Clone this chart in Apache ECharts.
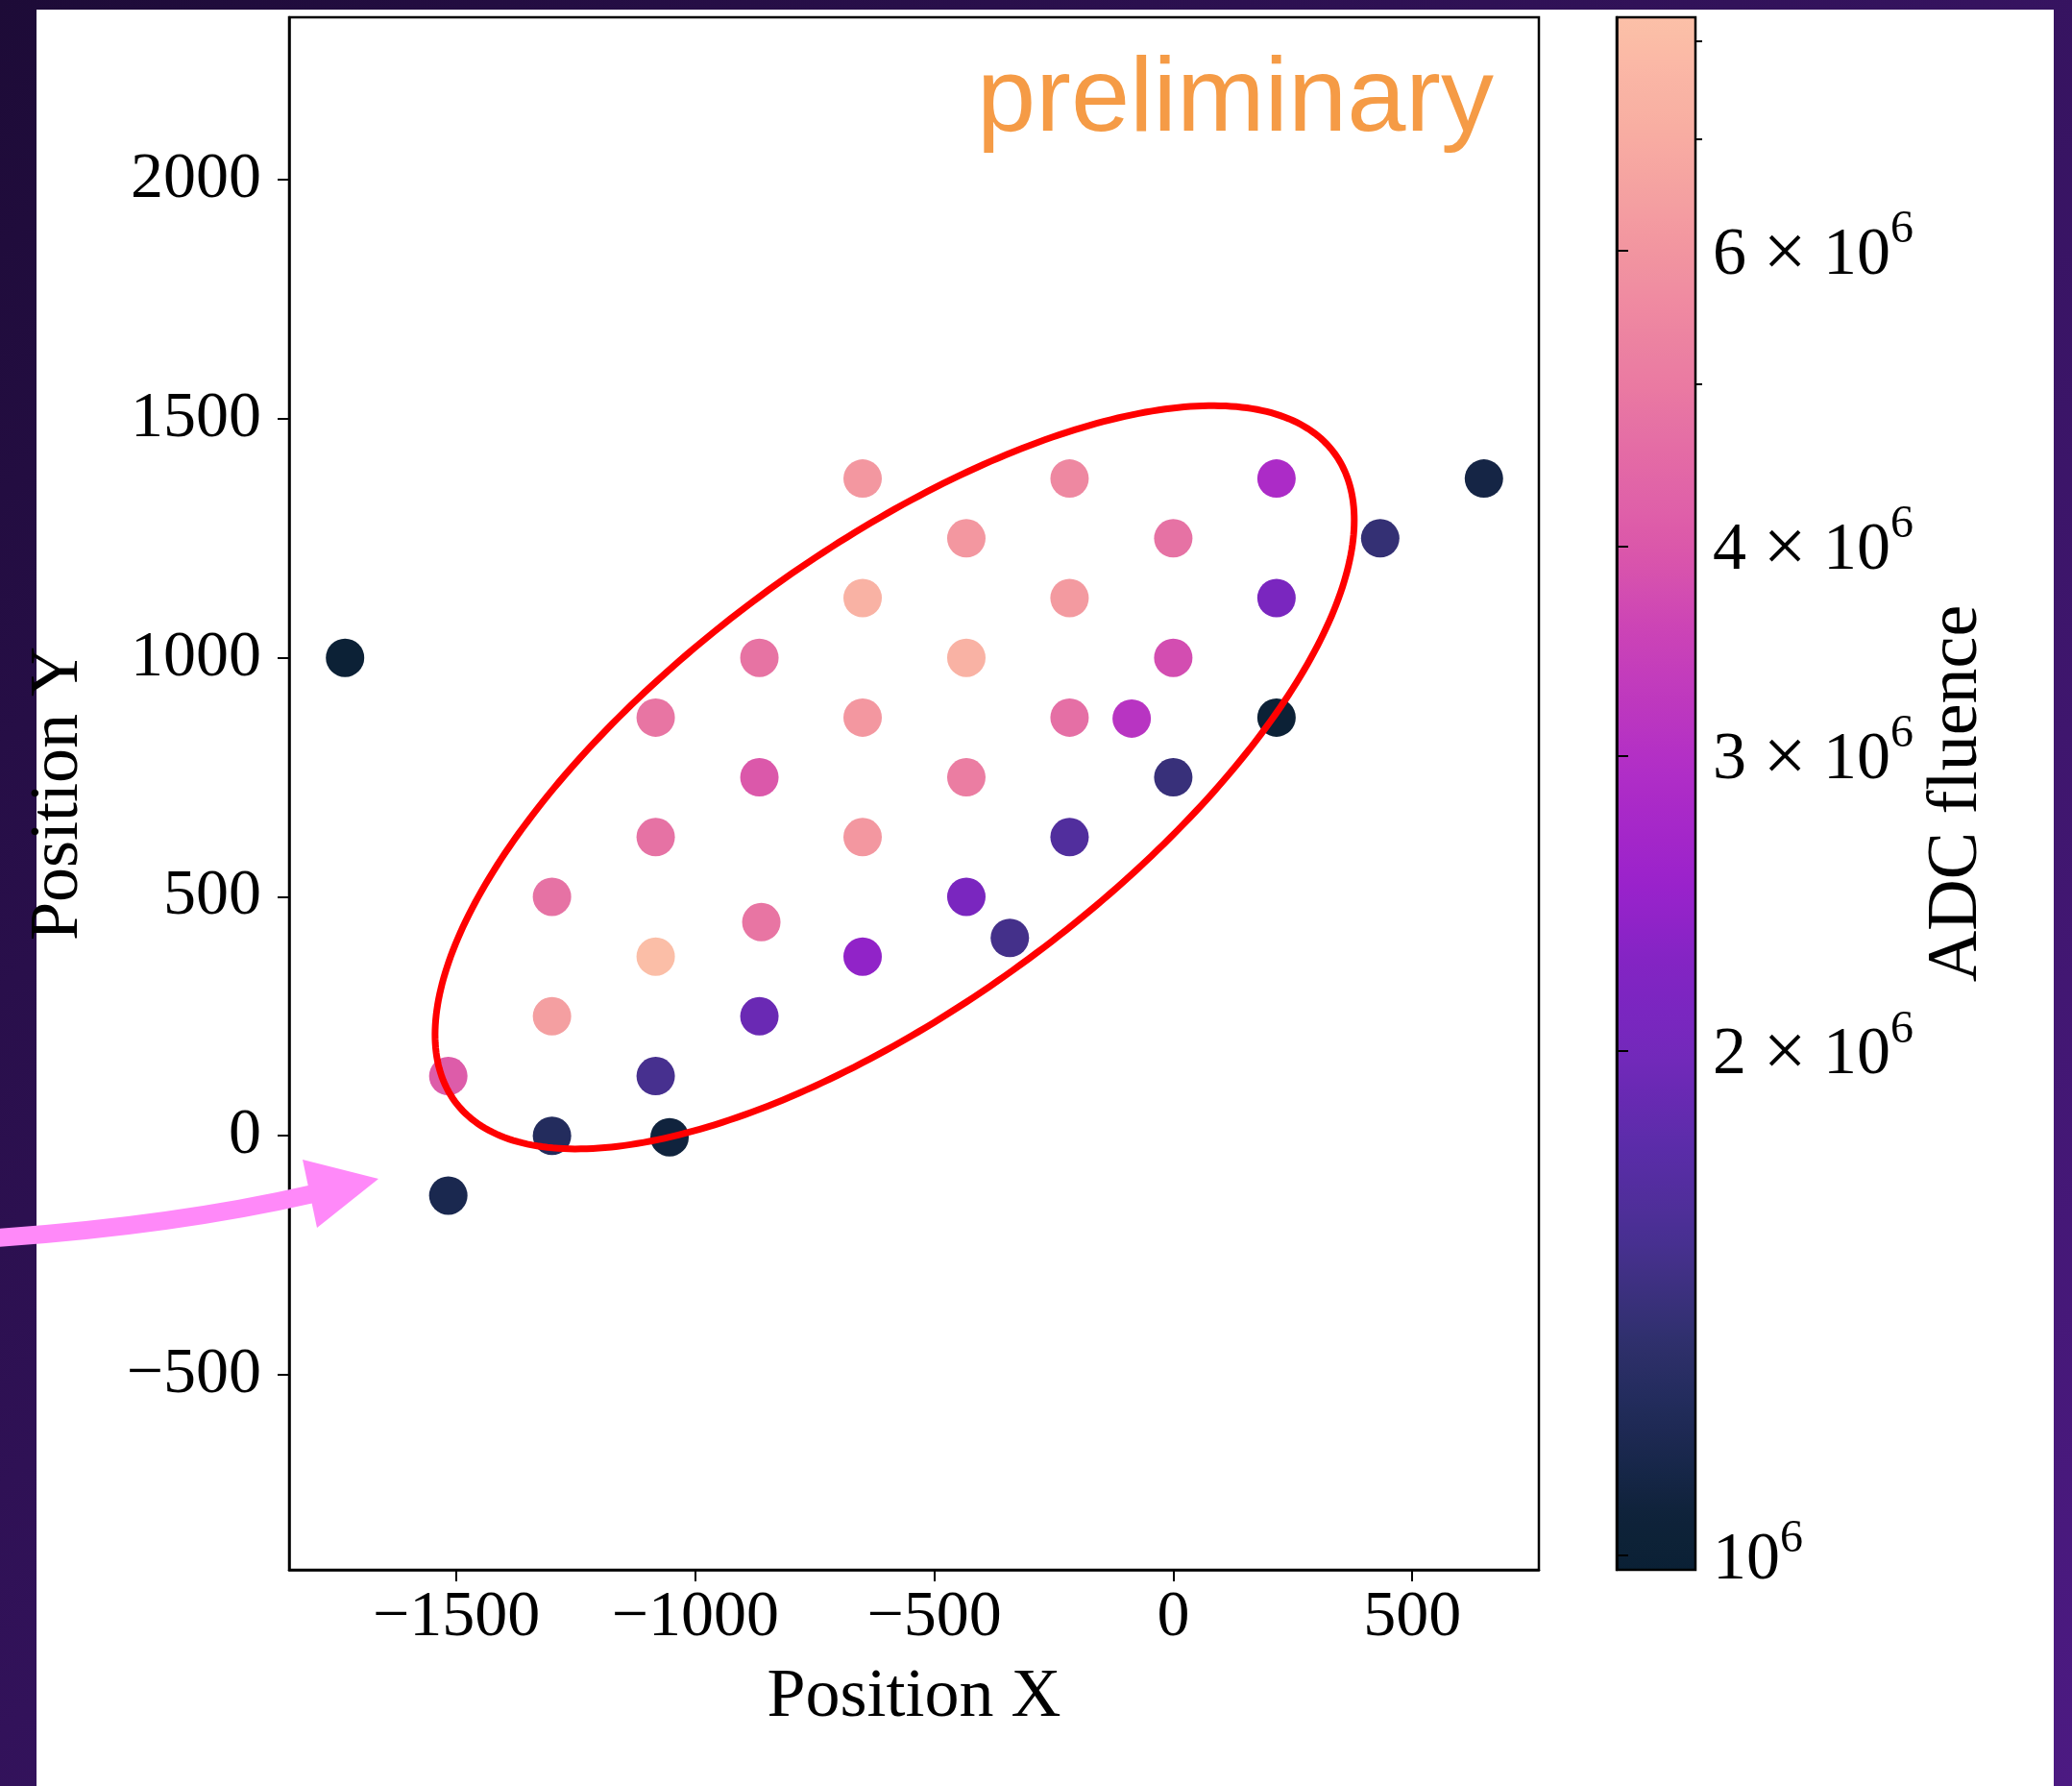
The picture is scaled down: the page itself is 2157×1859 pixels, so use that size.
<!DOCTYPE html>
<html>
<head>
<meta charset="utf-8">
<script src="https://cdn.jsdelivr.net/npm/echarts@6/dist/echarts.min.js"></script>
<style>
  html, body { margin: 0; padding: 0; width: 2157px; height: 1859px; overflow: hidden; }
  body { background: linear-gradient(135deg, #1d0b37 0%, #32125a 45%, #4c1a82 100%); position: relative; }
  #paper { position: absolute; left: 38px; top: 10px; width: 2100px; height: 1849px; background: #ffffff; }
  #chart { position: absolute; left: 0; top: 0; width: 2157px; height: 1859px; }
</style>
</head>
<body>
<div id="paper"></div>
<div id="chart"></div>
<script>
// ---------------- data ----------------
const posX = [-1733, -1517, -1517, -1300, -1300, -1300, -1083, -1083, -1083, -1083, -1054,
              -866, -862, -866, -866, -650, -650, -650, -650, -650,
              -433, -433, -433, -433, -342, -217, -217, -217, -217, -87,
              0, 0, 0, 216, 216, 216, 433, 650];
const posY = [1000, 125, -125, 0, 250, 500, 125, 375, 625, 875, -3,
              250, 447, 750, 1000, 375, 625, 875, 1125, 1375,
              500, 750, 1000, 1250, 414, 625, 875, 1125, 1375, 873,
              750, 1000, 1250, 875, 1125, 1375, 1250, 1375];
const fluence = [1.0e6, 4.1e6, 1.16e6, 1.24e6, 6.4e6, 4.75e6, 1.53e6, 8.1e6, 4.75e6, 4.85e6, 1.07e6,
                 1.9e6, 4.85e6, 4.0e6, 4.8e6, 2.4e6, 6.1e6, 6.1e6, 7.4e6, 6.1e6,
                 2.1e6, 5.1e6, 7.4e6, 6.1e6, 1.5e6, 1.64e6, 4.65e6, 6.2e6, 5.5e6, 3.1e6,
                 1.41e6, 3.76e6, 4.75e6, 1.0e6, 2.1e6, 2.85e6, 1.38e6, 1.11e6];

const xTicks = [-1500, -1000, -500, 0, 500];
const yTicks = [-500, 0, 500, 1000, 1500, 2000];
const cbMajorTicks = [1e6, 2e6, 3e6, 4e6, 6e6];
const cbMinorTicks = [5e6, 7e6, 8e6];

const X_MIN = -1850, X_MAX = 765, Y_MIN = -908, Y_MAX = 2340;
const CB_MIN = 0.98e6, CB_MAX = 8.27e6;

// fitted ellipse (data units)
const ELL_CX = -583, ELL_CY = 750, ELL_A = 1143, ELL_B = 472, ELL_ANGLE = 36.4;

// colormap stops (fraction from low end, colour)
const cmapStops = [
  [0.000, '#0a2035'], [0.032, '#0e2238'], [0.092, '#1e2a55'], [0.151, '#30306e'],
  [0.211, '#483090'], [0.270, '#5a2ca8'], [0.336, '#7428bc'], [0.394, '#8424c4'],
  [0.441, '#9a22cc'], [0.519, '#b22ec6'], [0.607, '#cc44b6'], [0.660, '#dc58aa'],
  [0.764, '#ea7aa2'], [0.850, '#f295a0'], [0.922, '#f8aca2'], [1.000, '#fcc0a8']
];

// ---------------- helpers ----------------
function hex2rgb(h) { return [parseInt(h.slice(1,3),16), parseInt(h.slice(3,5),16), parseInt(h.slice(5,7),16)]; }
function sampleCmap(f) {
  for (let i = 1; i < cmapStops.length; i++) {
    if (f <= cmapStops[i][0]) {
      const [f0, c0] = cmapStops[i-1], [f1, c1] = cmapStops[i];
      const t = (f - f0) / (f1 - f0);
      const a = hex2rgb(c0), b = hex2rgb(c1);
      return 'rgb(' + a.map((v, k) => Math.round(v + (b[k] - v) * t)).join(',') + ')';
    }
  }
  return cmapStops[cmapStops.length - 1][1];
}
const cmapColors = [];
for (let i = 0; i <= 80; i++) cmapColors.push(sampleCmap(i / 80));

const L = Math.log10;
const minus = v => String(v).replace('-', '\u2212');
const serif = 'Liberation Serif';

const chart = echarts.init(document.getElementById('chart'), null, { renderer: 'canvas' });

const option = {
  backgroundColor: 'transparent',
  animation: false,
  grid: [
    { left: 301, top: 18, width: 1301, height: 1616, show: true, borderColor: '#000', borderWidth: 2.5,
      backgroundColor: 'transparent', containLabel: false, outerBoundsMode: 'none' },
    { left: 1683, top: 18, width: 82, height: 1616, show: true, borderColor: '#000', borderWidth: 2.5,
      backgroundColor: 'transparent', containLabel: false, outerBoundsMode: 'none', z: 10 }
  ],
  xAxis: [
    { type: 'value', gridIndex: 0, min: X_MIN, max: X_MAX,
      name: 'Position X', nameLocation: 'middle', nameGap: 97, nameMoveOverlap: false,
      nameTextStyle: { fontFamily: serif, fontSize: 72, color: '#000' },
      axisLine: { show: true, onZero: false, lineStyle: { color: '#000', width: 2.5 } },
      axisTick: { show: true, inside: false, length: 12, lineStyle: { color: '#000', width: 2 }, customValues: xTicks },
      axisLabel: { show: true, margin: 16, fontFamily: serif, fontSize: 68, color: '#000', customValues: xTicks, formatter: minus },
      splitLine: { show: false } },
    { type: 'value', gridIndex: 1, min: 0, max: 1, show: false }
  ],
  yAxis: [
    { type: 'value', gridIndex: 0, min: Y_MIN, max: Y_MAX,
      name: 'Position Y', nameLocation: 'middle', nameGap: 204, nameRotate: 90, nameMoveOverlap: false,
      nameTextStyle: { fontFamily: serif, fontSize: 72, color: '#000' },
      axisLine: { show: true, onZero: false, lineStyle: { color: '#000', width: 2.5 } },
      axisTick: { show: true, inside: false, length: 12, lineStyle: { color: '#000', width: 2 }, customValues: yTicks },
      axisLabel: { show: true, margin: 29, fontFamily: serif, fontSize: 68, color: '#000', customValues: yTicks, formatter: minus },
      splitLine: { show: false } },
    { type: 'value', gridIndex: 1, min: L(CB_MIN), max: L(CB_MAX), position: 'right', z: 10,
      name: 'ADC fluence', nameLocation: 'middle', nameGap: 236, nameRotate: 90, nameMoveOverlap: false,
      nameTextStyle: { fontFamily: serif, fontSize: 74, color: '#000' },
      axisLine: { show: true, lineStyle: { color: '#000', width: 2.5 } },
      axisTick: { show: true, inside: false, length: 12, lineStyle: { color: '#000', width: 2 }, customValues: cbMajorTicks.map(L) },
      axisLabel: { show: true, margin: 18, customValues: cbMajorTicks.map(L),
        formatter: function (v) {
          const m = Math.round(Math.pow(10, v) / 1e6);
          return m === 1 ? '{b|10}{s|6}' : '{b|' + m + ' }{x|\u00d7}{b| 10}{s|6}';
        },
        rich: {
          b: { fontFamily: serif, fontSize: 70, color: '#000', padding: [11, 0, 0, 0] },
          x: { fontFamily: serif, fontSize: 80, color: '#000', padding: [11, 0, 0, 0] },
          s: { fontFamily: serif, fontSize: 48, color: '#000', verticalAlign: 'top' }
        } },
      splitLine: { show: false } },
    { type: 'value', gridIndex: 1, min: L(CB_MIN), max: L(CB_MAX), position: 'right', z: 10,
      axisLine: { show: false },
      axisTick: { show: true, inside: false, length: 7, lineStyle: { color: '#000', width: 2 }, customValues: cbMinorTicks.map(L) },
      axisLabel: { show: false },
      splitLine: { show: false } }
  ],
  visualMap: [{
    type: 'continuous', seriesIndex: 0, dimension: 2,
    min: L(CB_MIN), max: L(CB_MAX),
    inRange: { color: cmapColors },
    left: 1683, top: 18, itemWidth: 82, itemHeight: 1616, padding: 0,
    calculable: false, realtime: false, hoverLink: false, showLabel: false, text: null
  }],
  series: [
    { type: 'scatter', xAxisIndex: 0, yAxisIndex: 0, symbol: 'circle', symbolSize: 40, z: 2,
      itemStyle: { opacity: 1, borderWidth: 0 },
      data: posX.map((x, i) => [x, posY[i], L(fluence[i])]) },
    { type: 'custom', xAxisIndex: 0, yAxisIndex: 0, z: 5, silent: true,
      data: [[ELL_CX, ELL_CY]],
      renderItem: function (params, api) {
        const th = ELL_ANGLE * Math.PI / 180;
        const pts = [];
        for (let k = 0; k <= 360; k++) {
          const t = k / 360 * 2 * Math.PI;
          const ex = ELL_A * Math.cos(t), ey = ELL_B * Math.sin(t);
          pts.push(api.coord([ELL_CX + ex * Math.cos(th) - ey * Math.sin(th),
                              ELL_CY + ex * Math.sin(th) + ey * Math.cos(th)]));
        }
        return { type: 'polyline', shape: { points: pts }, style: { stroke: '#ff0000', lineWidth: 7, fill: null } };
      } }
  ],
  graphic: [
    { type: 'text', x: 1555, y: 106, z: 50,
      style: { text: 'preliminary', fill: '#f59b46', font: '110px "Liberation Sans"', align: 'right', verticalAlign: 'middle' } },
    { type: 'bezierCurve', z: 100,
      shape: { x1: -10, y1: 1289, cpx1: 180, cpy1: 1276, x2: 324, y2: 1243 },
      style: { stroke: '#ff89f9', lineWidth: 19, fill: null } },
    { type: 'polygon', z: 100,
      shape: { points: [[315, 1207], [394, 1227], [330, 1278]] },
      style: { fill: '#ff89f9' } }
  ]
};
chart.setOption(option);
</script>
</body>
</html>
